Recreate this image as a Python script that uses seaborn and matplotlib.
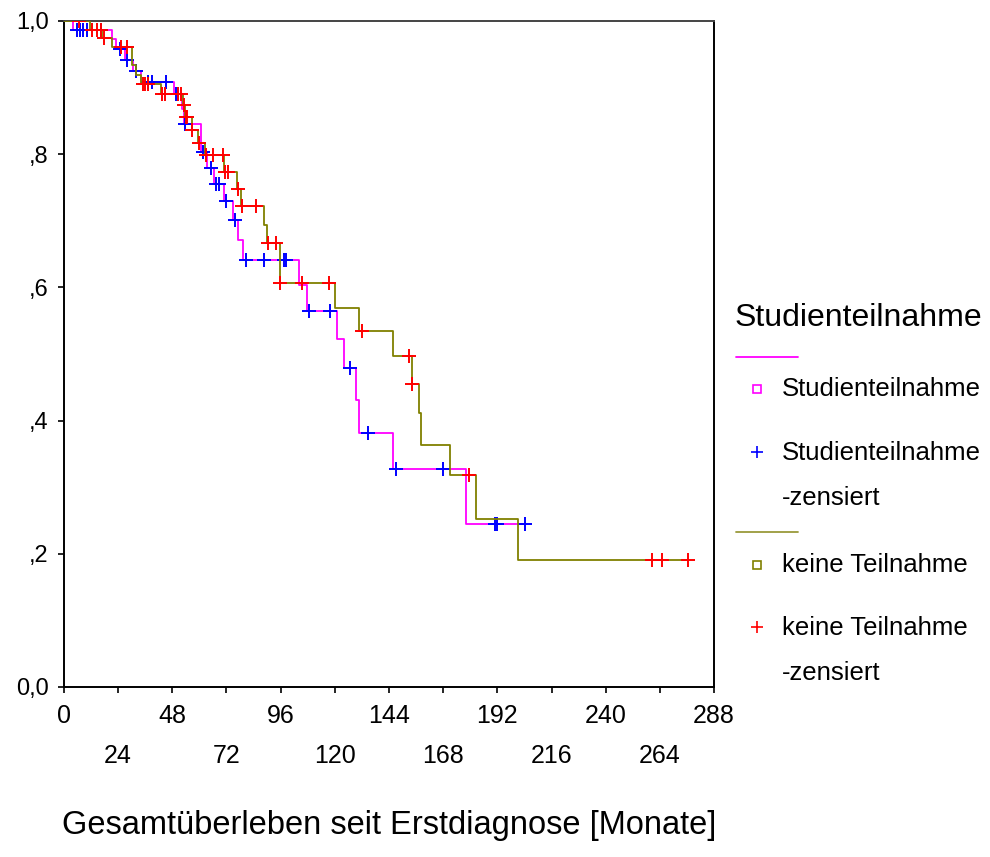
import numpy as np
import pandas as pd
import matplotlib
matplotlib.use("Agg")
import matplotlib.pyplot as plt
from matplotlib.lines import Line2D
import seaborn as sns

# Kaplan-Meier estimates: event times (months) and survival after each event
studie_event_t = [4.0, 21.4, 23.0, 27.0, 30.5, 34.0, 48.8, 52.5, 53.2, 60.5, 63.5,
                  66.5, 71.0, 75.0, 77.0, 79.4, 104.0, 107.7, 120.9, 124.0, 129.5,
                  130.9, 145.7, 178.0]
studie_event_s = [0.986, 0.9725, 0.958, 0.941, 0.925, 0.909, 0.891, 0.868, 0.846, 0.804, 0.779,
                  0.755, 0.729, 0.701, 0.671, 0.641, 0.604, 0.565, 0.5225, 0.4785, 0.431,
                  0.382, 0.327, 0.245]
studie_censor_t = [5.8, 7.3, 8.6, 10.2, 16.3, 24.9, 28.1, 32.1, 37.0, 39.2, 45.1, 49.6,
                   50.7, 53.7, 61.4, 65.1, 67.3, 68.5, 72.0, 75.7, 80.6, 88.5, 97.3,
                   98.4, 108.5, 117.9, 126.9, 134.5, 147.2, 167.9, 190.9, 191.9, 204.2]

keine_event_t = [11.5, 17.0, 21.4, 30.0, 31.8, 34.0, 42.9, 52.8, 53.8, 56.5, 59.5,
                 62.5, 71.0, 76.5, 78.4, 88.8, 89.9, 95.7, 120.1, 130.5, 145.7, 154.1,
                 157.3, 158.0, 171.2, 182.4, 201.2]
keine_event_s = [0.986, 0.974, 0.961, 0.934, 0.919, 0.906, 0.891, 0.874, 0.856, 0.837, 0.817,
                 0.799, 0.774, 0.747, 0.722, 0.694, 0.667, 0.606, 0.569, 0.535, 0.497, 0.4545,
                 0.411, 0.363, 0.318, 0.253, 0.19]
keine_censor_t = [6.7, 12.6, 14.5, 16.3, 17.8, 25.1, 28.1, 34.8, 36.0, 37.0, 43.6, 44.8,
                  50.3, 51.8, 53.3, 54.0, 54.6, 56.9, 59.9, 62.9, 65.8, 70.3, 71.3, 72.5,
                  76.9, 78.9, 85.1, 90.2, 93.9, 95.9, 105.5, 117.3, 132.1, 152.8, 154.3,
                  179.5, 260.4, 264.8, 276.7]

x_major = [0, 48, 96, 144, 192, 240, 288]
x_minor = [24, 72, 120, 168, 216, 264]
y_ticks = [0.0, 0.2, 0.4, 0.6, 0.8, 1.0]
y_labels = ["0,0", ",2", ",4", ",6", ",8", "1,0"]

C_STUDIE = "#FF00FF"
C_STUDIE_CENS = "#0000FF"
C_KEINE = "#808000"
C_KEINE_CENS = "#FF0000"


def km_curve(ev_t, ev_s, cens_t):
    """Step coordinates of the survival curve plus censor positions."""
    end = max(max(ev_t), max(cens_t))
    t = np.concatenate([[0.0], ev_t, [end]])
    s = np.concatenate([[1.0], ev_s, [ev_s[-1]]])
    steps = pd.DataFrame({"t": t, "s": s})
    idx = np.searchsorted(np.asarray(ev_t), np.asarray(cens_t), side="right")
    level = np.concatenate([[1.0], ev_s])[idx]
    cens = pd.DataFrame({"t": cens_t, "s": level})
    return steps, cens


sns.set_theme(style="white")
plt.rcParams["font.family"] = ["Liberation Sans", "DejaVu Sans"]
for key in ("text.color", "axes.labelcolor", "xtick.color", "ytick.color"):
    plt.rcParams[key] = "black"

fig = plt.figure(figsize=(9.9, 8.57), dpi=100)
ax = fig.add_axes([64 / 990, 1 - 687 / 857, 650 / 990, 666 / 857])

st_steps, st_cens = km_curve(studie_event_t, studie_event_s, studie_censor_t)
ke_steps, ke_cens = km_curve(keine_event_t, keine_event_s, keine_censor_t)

sns.lineplot(data=st_steps, x="t", y="s", ax=ax, color=C_STUDIE, lw=1.3,
             drawstyle="steps-post", estimator=None, sort=False, zorder=2)
sns.scatterplot(data=st_cens, x="t", y="s", ax=ax, marker="+", color=C_STUDIE_CENS,
                s=110, linewidth=1.4, zorder=3)
sns.lineplot(data=ke_steps, x="t", y="s", ax=ax, color=C_KEINE, lw=1.3,
             drawstyle="steps-post", estimator=None, sort=False, zorder=4)
sns.scatterplot(data=ke_cens, x="t", y="s", ax=ax, marker="+", color=C_KEINE_CENS,
                s=110, linewidth=1.4, zorder=5)

ax.set_xlim(0, 288)
ax.set_ylim(0, 1)
for sp in ax.spines.values():
    sp.set_color("black")
    sp.set_linewidth(1.4)
ax.spines["top"].set_color("#444444")

ax.set_xticks(x_major)
ax.set_xticklabels([str(v) for v in x_major])
ax.set_xticks(x_minor, minor=True)
ax.set_xticklabels([str(v) for v in x_minor], minor=True)
ax.set_yticks(y_ticks)
ax.set_yticklabels(y_labels)
ax.tick_params(axis="x", which="major", direction="out", length=4, width=1.2,
               color="black", pad=8, labelsize=18, bottom=True)
ax.tick_params(axis="x", which="minor", direction="out", length=4, width=1.2,
               color="black", pad=37, labelsize=18, bottom=True)
ax.tick_params(axis="y", direction="out", length=4, width=1.2, color="black",
               pad=7, labelsize=17, left=True)

ax.set_xlabel("Gesamtüberleben seit Erstdiagnose [Monate]", fontsize=23.5, labelpad=30)
ax.set_ylabel("")


def fx(px):
    return px / 990


def fy(py):
    return 1 - py / 857


# Legend block to the right of the plot
fig.text(fx(735), fy(318), "Studienteilnahme", fontsize=23, va="center", ha="left")
fig.add_artist(Line2D([fx(736), fx(798)], [fy(357), fy(357)], color=C_STUDIE, lw=1.3))
fig.add_artist(Line2D([fx(757)], [fy(389)], marker="s", ms=6, mfc="none",
                      mec=C_STUDIE, mew=1.2, ls="none"))
fig.text(fx(782), fy(389), "Studienteilnahme", fontsize=18.5, va="center")
fig.add_artist(Line2D([fx(757)], [fy(452)], marker="+", ms=9, color=C_STUDIE_CENS,
                      mew=1.2, ls="none"))
fig.text(fx(782), fy(453), "Studienteilnahme", fontsize=18.5, va="center")
fig.text(fx(782), fy(498), "-zensiert", fontsize=18.5, va="center")
fig.add_artist(Line2D([fx(736), fx(798)], [fy(532), fy(532)], color="#9a9a3a", lw=1.3))
fig.add_artist(Line2D([fx(757)], [fy(565)], marker="s", ms=6, mfc="none",
                      mec=C_KEINE, mew=1.2, ls="none"))
fig.text(fx(782), fy(565), "keine Teilnahme", fontsize=18.5, va="center")
fig.add_artist(Line2D([fx(757)], [fy(627)], marker="+", ms=9, color=C_KEINE_CENS,
                      mew=1.2, ls="none"))
fig.text(fx(782), fy(628), "keine Teilnahme", fontsize=18.5, va="center")
fig.text(fx(782), fy(673), "-zensiert", fontsize=18.5, va="center")

fig.savefig("out.png", dpi=100, facecolor="white")
